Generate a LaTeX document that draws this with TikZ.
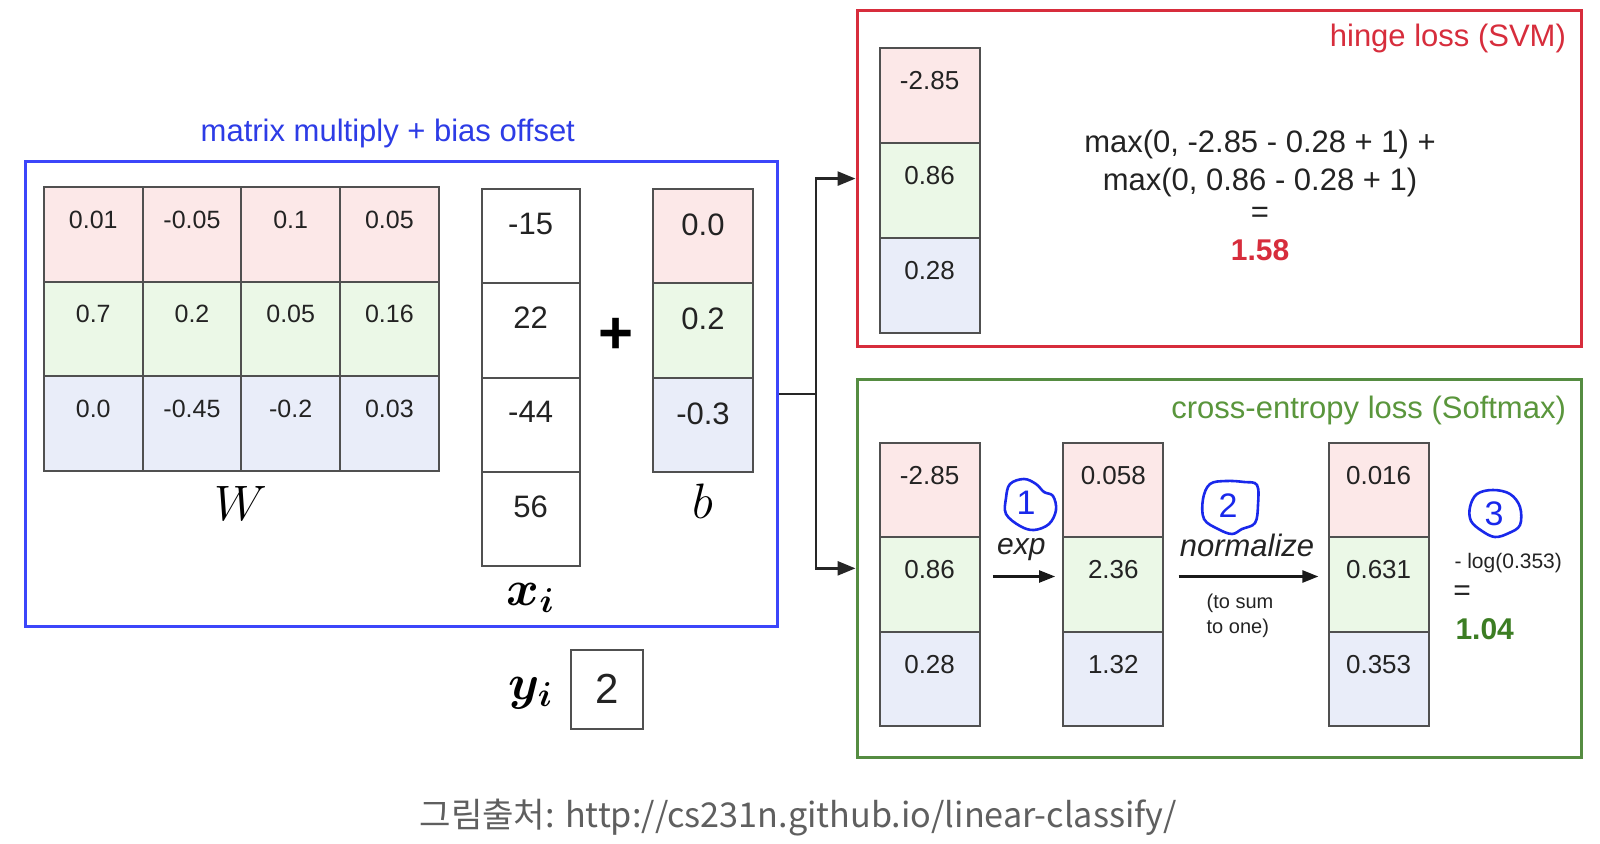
\documentclass[tikz,border=0pt]{standalone}
\usepackage{bm}
\usepackage{fontspec}
\setmainfont{Liberation Sans}
\newfontfamily\krfont{Noto Sans CJK KR}
\usetikzlibrary{arrows.meta}
\definecolor{rowR}{RGB}{252,232,232}
\definecolor{rowG}{RGB}{235,248,231}
\definecolor{rowB}{RGB}{233,237,249}
\definecolor{cellline}{RGB}{80,80,80}
\definecolor{numcol}{RGB}{35,35,35}
\definecolor{blueline}{RGB}{60,70,250}
\definecolor{bluetext}{RGB}{45,60,230}
\definecolor{redc}{RGB}{215,45,60}
\definecolor{greenline}{RGB}{85,140,65}
\definecolor{greentext}{RGB}{90,150,60}
\definecolor{greenres}{RGB}{60,125,35}
\definecolor{handblue}{RGB}{25,40,235}
\definecolor{capgray}{RGB}{95,95,95}
\tikzset{
  cell/.style={draw=cellline, line width=1pt, rectangle, inner sep=0pt},
  wnum/.style={font=\fontsize{12.5}{15}\selectfont, text=numcol, inner sep=0pt},
  bignum/.style={font=\fontsize{15.5}{18}\selectfont, text=numcol, inner sep=0pt},
  vnum/.style={font=\fontsize{13}{15}\selectfont, text=numcol, inner sep=0pt},
  ttl/.style={font=\fontsize{15.5}{18}\selectfont, inner sep=0pt},
  frm/.style={font=\fontsize{15.5}{18}\selectfont, text=numcol, inner sep=0pt},
  mlabel/.style={font=\fontsize{24}{28}\selectfont, inner sep=0pt},
  conn/.style={line width=1.3pt, draw=black!85},
  arr/.style={conn, -{Triangle[length=9pt,width=7pt]}},
  smallarr/.style={line width=1.2pt, draw=black!90, -{Triangle[length=8pt,width=6pt]}},
  hand/.style={draw=handblue, line width=1.3pt, line cap=round, line join=round},
  handnum/.style={font=\fontsize{17}{18}\selectfont, text=handblue, inner sep=0pt},
}
\begin{document}
\begin{tikzpicture}[x=0.5pt,y=-0.5pt]
\useasboundingbox (0,0) rectangle (1600,844);
\fill[white] (0,0) rectangle (1600,844);

% ---------- matrix multiply + bias offset ----------
\node[draw=blueline, line width=1.5pt, minimum width=376pt, minimum height=232.6pt, inner sep=0pt] (mm) at (401.5,393.9) {};
\node[ttl, text=bluetext] (mmt) at (387.8,133.5) {matrix multiply + bias offset};

% W matrix
\foreach \r/\fc/\vals in {0/rowR/{0.01,-0.05,0.1,0.05},1/rowG/{0.7,0.2,0.05,0.16},2/rowB/{0.0,-0.45,-0.2,0.03}}{
  \foreach \v [count=\c from 0] in \vals {
    \node[cell, fill=\fc, minimum width=49.36pt, minimum height=47.45pt] (w\r\c) at ({93.26+98.72*\c},{234.15+94.9*\r}) {};
    \node[wnum] (wt\r\c) at ({93.26+98.72*\c},{219.4+94.9*\r}) {\v};
  }
}
\node[mlabel] (Wl) at (240.8,503) {$W$};

% x column
\foreach \v [count=\r from 0] in {-15,22,-44,56}{
  \node[cell, fill=white, minimum width=49pt, minimum height=47.2pt] (x\r) at (530.6,{236+94.4*\r}) {};
  \node[bignum] (xt\r) at (530.6,{223.5+94.4*\r}) {\v};
}
\node[mlabel] (xl) at (530.6,598) {$\bm{x}_{\bm{i}}$};

\node[font=\fontsize{30}{32}\selectfont\bfseries, inner sep=0pt] (plus) at (616.3,336) {+};

% b column
\foreach \v/\fc [count=\r from 0] in {0.0/rowR,0.2/rowG,-0.3/rowB}{
  \node[cell, fill=\fc, minimum width=50pt, minimum height=47.25pt] (b\r) at (703,{236+94.5*\r}) {};
  \node[bignum] (bt\r) at (703,{224.5+94.5*\r}) {\v};
}
\node[mlabel] (bl) at (703,501) {$b$};

% y_i
\node[mlabel] (yl) at (530.6,693) {$\bm{y}_{\bm{i}}$};
\node[draw=cellline, line width=1pt, minimum width=35.75pt, minimum height=39.3pt, inner sep=0pt, font=\fontsize{21}{24}\selectfont, text=numcol] (ybox) at (607.2,689.3) {2};

% ---------- hinge loss ----------
\node[draw=redc, line width=1.5pt, minimum width=362.3pt, minimum height=168.4pt, inner sep=0pt] (svm) at (1219.3,178.6) {};
\node[ttl, text=redc, anchor=east] (svmt) at (1566.3,38.8) {hinge loss (SVM)};
\foreach \v/\fc [count=\r from 0] in {-2.85/rowR,0.86/rowG,0.28/rowB}{
  \node[cell, fill=\fc, minimum width=50pt, minimum height=47.45pt] (s\r) at (929.6,{95.4+94.9*\r}) {};
  \node[vnum] (st\r) at (929.6,{80.6+94.9*\r}) {\v};
}
\node[frm] (f1) at (1260,144.5) {max(0, -2.85 - 0.28 + 1) +};
\node[frm] (f2) at (1260,182.5) {max(0, 0.86 - 0.28 + 1)};
\node[frm] (f3) at (1260,214.5) {=};
\node[font=\fontsize{15}{18}\selectfont\bfseries, text=redc, inner sep=0pt] (f4) at (1260,250.5) {1.58};

% ---------- cross-entropy loss ----------
\node[draw=greenline, line width=1.5pt, minimum width=362.3pt, minimum height=188.75pt, inner sep=0pt] (ce) at (1219.3,568.35) {};
\node[ttl, text=greentext, anchor=east] (cet) at (1566.3,410.5) {cross-entropy loss (Softmax)};
\foreach \k/\cx/\vals in {1/929.6/{-2.85,0.86,0.28},2/1113.3/{0.058,2.36,1.32},3/1378.6/{0.016,0.631,0.353}}{
  \foreach \v [count=\r from 0] in \vals {
    \pgfmathsetmacro{\cy}{490.2+94.5*\r}
    \pgfmathsetmacro{\ty}{475.5+94.5*\r}
    \ifcase\r\relax\def\fc{rowR}\or\def\fc{rowG}\else\def\fc{rowB}\fi
    \node[cell, fill=\fc, minimum width=50pt, minimum height=47.25pt] (c\k\r) at (\cx,\cy) {};
    \node[vnum] (ct\k\r) at (\cx,\ty) {\v};
  }
}
\coordinate (e1) at (992.9,576.5);
\coordinate (e2) at (1055.1,576.5);
\draw[smallarr] (e1) -- (e2);
\node[font=\fontsize{15}{18}\selectfont\itshape, text=numcol, inner sep=0pt] (expl) at (1021.4,550) {exp};
\coordinate (n1) at (1178.6,576.5);
\coordinate (n2) at (1318.4,576.5);
\draw[smallarr] (n1) -- (n2);
\node[font=\fontsize{15.5}{18}\selectfont\itshape, text=numcol, inner sep=0pt] (norml) at (1247,545) {normalize};
\node[font=\fontsize{10}{12.2}\selectfont, text=numcol, align=left, inner sep=0pt] (tosum) at (1240,616) {(to sum\\to one)};
\node[font=\fontsize{10.5}{12}\selectfont, text=numcol, inner sep=0pt] (logt) at (1508.2,563.5) {- log(0.353)};
\node[font=\fontsize{15}{18}\selectfont, text=numcol, inner sep=0pt, anchor=west] (eq2) at (1453,593) {=};
\node[font=\fontsize{15}{18}\selectfont\bfseries, text=greenres, inner sep=0pt] (res2) at (1484.7,629.5) {1.04};

% handwritten annotations
\draw[hand, shift={(1030,504)}] plot[smooth cycle, tension=0.6] coordinates {(-24,-6) (-20,-20) (-6,-25) (6,-20) (14,-12) (23,-8) (26,6) (19,20) (4,26) (-10,22) (-24,10)};
\node[handnum] (h1) at (1026,503) {1};
\draw[hand, shift={(1230,507)}] plot[smooth cycle, tension=0.6] coordinates {(-27,-8) (-20,-23) (-4,-26) (14,-25) (27,-22) (28,-2) (25,16) (12,22) (2,27) (-12,22) (-26,12)};
\node[handnum] (h2) at (1228,506) {2};
\draw[hand, shift={(1495,513)}] plot[smooth cycle, tension=0.6] coordinates {(-25,-6) (-18,-19) (-2,-23) (15,-19) (25,-6) (25,12) (14,20) (0,24) (-13,18) (-24,8)};
\node[handnum] (h3) at (1494,514) {3};

% connectors
\coordinate (j) at (816,393.9);
\draw[conn] (mm.east) -- (j);
\draw[arr] (j) |- (svm.west);
\draw[arr] (j) |- (ce.west);

% caption
\node[font=\krfont\fontsize{17.1}{20}\selectfont, text=capgray, inner sep=0pt] (cap) at (798,817.5) {그림출처: http://cs231n.github.io/linear-classify/};
\end{tikzpicture}
\end{document}
